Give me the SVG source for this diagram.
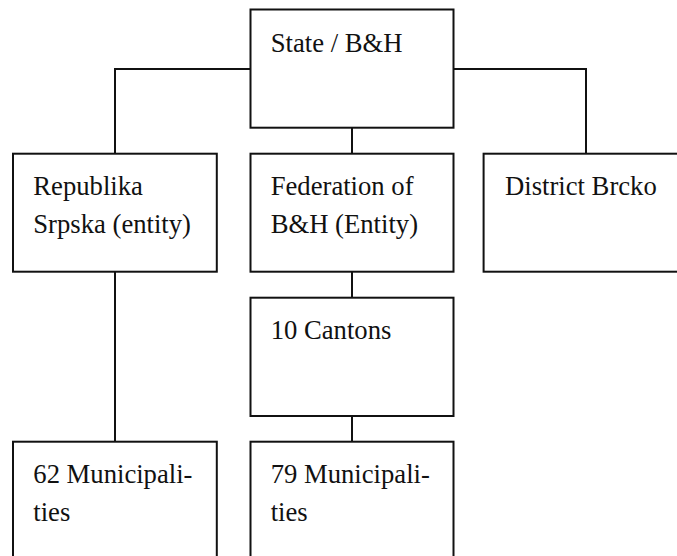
<svg xmlns="http://www.w3.org/2000/svg" width="677" height="556" viewBox="0 0 677 556">
<style>
.box{fill:#fff;stroke:#111;stroke-width:2}
.con{fill:none;stroke:#111;stroke-width:2}
.t{font-family:'Liberation Serif','Times New Roman',Tinos,'DejaVu Serif',serif;font-size:26.67px;fill:#111}
</style>
<rect width="677" height="556" fill="#fff"/>
<g id="connectors">
<path class="con" d="M250,69 H115 V153.7"/>
<path class="con" d="M453.4,69 H586 V153.7"/>
<path class="con" d="M352,127.7 V153.7"/>
<path class="con" d="M115,271.7 V441.7"/>
<path class="con" d="M352,271.7 V297.7"/>
<path class="con" d="M352,416 V441.7"/>
</g>
<g id="state">
<rect class="box" x="250.5" y="9.5" width="203" height="118.2"/>
<text class="t" x="270.7" y="51.7">State / B&amp;H</text>
</g>
<g id="republika-srpska">
<rect class="box" x="13" y="153.7" width="203.8" height="118"/>
<text class="t" x="33.3" y="195">Republika</text>
<text class="t" x="33.3" y="233">Srpska (entity)</text>
</g>
<g id="federation">
<rect class="box" x="250.5" y="153.7" width="203" height="118"/>
<text class="t" x="270.7" y="195">Federation of</text>
<text class="t" x="270.7" y="233">B&amp;H (Entity)</text>
</g>
<g id="district-brcko">
<rect class="box" x="483.6" y="153.7" width="204" height="118"/>
<text class="t" x="505" y="195">District Brcko</text>
</g>
<g id="cantons">
<rect class="box" x="250.5" y="297.7" width="203" height="118.3"/>
<text class="t" x="270.7" y="339.3">10 Cantons</text>
</g>
<g id="rs-municipalities">
<rect class="box" x="13" y="441.7" width="203.8" height="130"/>
<text class="t" x="33.3" y="483.3">62 Municipali-</text>
<text class="t" x="33.3" y="521">ties</text>
</g>
<g id="fbh-municipalities">
<rect class="box" x="250.5" y="441.7" width="203" height="130"/>
<text class="t" x="270.7" y="483.3">79 Municipali-</text>
<text class="t" x="270.7" y="521">ties</text>
</g>
</svg>
